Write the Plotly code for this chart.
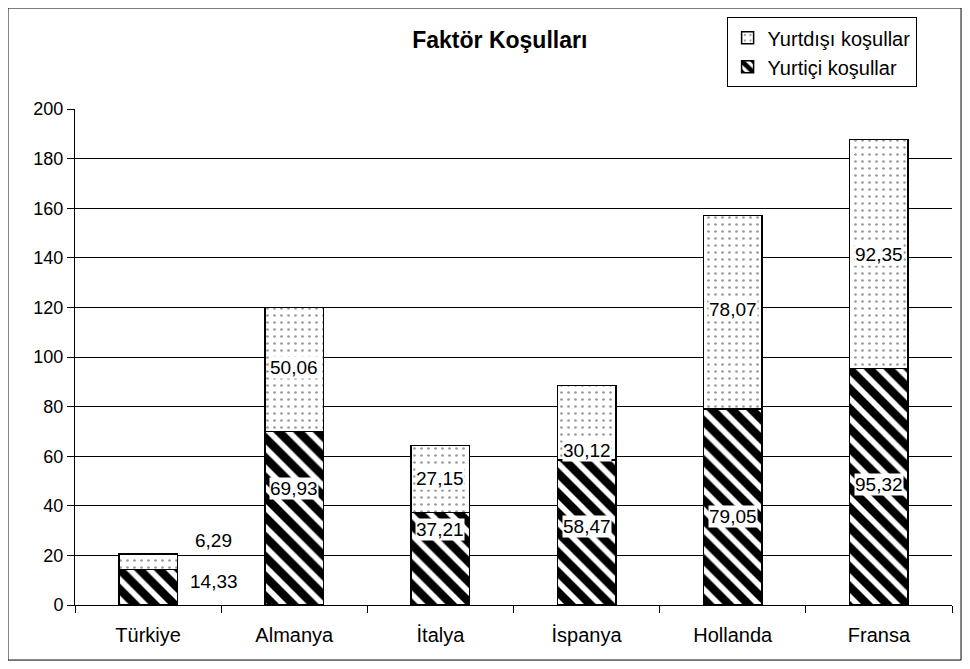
import plotly.graph_objects as go

categories = ["Türkiye", "Almanya", "İtalya", "İspanya", "Hollanda", "Fransa"]
yurtici = [14.33, 69.93, 37.21, 58.47, 79.05, 95.32]
yurtdisi = [6.29, 50.06, 27.15, 30.12, 78.07, 92.35]
y_ticks = [0, 20, 40, 60, 80, 100, 120, 140, 160, 180, 200]

# label placement (data units) mirroring the reference's hand-placed labels
yi_label_y = [9.3, 46.8, 30.6, 31.5, 35.5, 48.4]
yd_label_y = [26.2, 95.6, 51.2, 62.5, 119.0, 141.5]
label_dx = [0.45, 0, 0, 0, 0, 0]

def fmt(v):
    return f"{v:.2f}".replace(".", ",")

fig = go.Figure()
fig.add_trace(go.Bar(
    x=categories, y=yurtici, name="Yurtiçi koşullar", width=0.4,
    marker=dict(color="white", line=dict(color="black", width=1.5),
                pattern=dict(shape="\\", fgcolor="black", bgcolor="white",
                             fgopacity=1, size=14, solidity=0.6)),
))
fig.add_trace(go.Bar(
    x=categories, y=yurtdisi, name="Yurtdışı koşullar", width=0.4,
    marker=dict(color="white", line=dict(color="black", width=1.5),
                pattern=dict(shape=".", fgcolor="#333333", bgcolor="white",
                             size=7, solidity=0.12)),
))

for i, c in enumerate(categories):
    for val, ly in ((yurtici[i], yi_label_y[i]), (yurtdisi[i], yd_label_y[i])):
        fig.add_annotation(x=i + label_dx[i], y=ly, xref="x", yref="y",
                           text=fmt(val), showarrow=False, bgcolor="white",
                           font=dict(size=19, color="black"), borderpad=0)

fig.add_shape(type="rect", xref="paper", yref="paper",
              x0=-0.0764, x1=1.0103, y0=-0.111, y1=1.2036,
              line=dict(color="black", width=1), layer="below")

# page body adds an 8px offset, so margins are compensated
fig.update_layout(
    width=970, height=669,
    margin=dict(l=67, r=26, t=101, b=72, autoexpand=False),
    paper_bgcolor="white", plot_bgcolor="white",
    barmode="stack",
    font=dict(family="Liberation Sans, Arial, sans-serif", size=18, color="black"),
    title=dict(text="<b>Faktör Koşulları</b>", x=0.507, xanchor="center",
               y=0.952, yanchor="middle", font=dict(size=23)),
    legend=dict(x=0.743, y=1.185, xanchor="left", yanchor="top",
                bordercolor="black", borderwidth=1, bgcolor="white",
                traceorder="reversed", font=dict(size=20), itemwidth=30,
                tracegroupgap=0),
    xaxis=dict(type="category", range=[-0.5, 5.5], showline=True, linecolor="black",
               linewidth=1, ticks="outside", tickson="boundaries", ticklen=7,
               tickcolor="black", showgrid=False, tickfont=dict(size=20),
               ticklabelstandoff=12, automargin=False),
    yaxis=dict(range=[0, 200], tickvals=y_ticks, showline=True, linecolor="black",
               linewidth=1, ticks="outside", ticklen=7, tickcolor="black",
               showgrid=True, gridcolor="black", gridwidth=1, zeroline=False,
               tickfont=dict(size=18), automargin=False),
)

fig.write_html("out.html")
